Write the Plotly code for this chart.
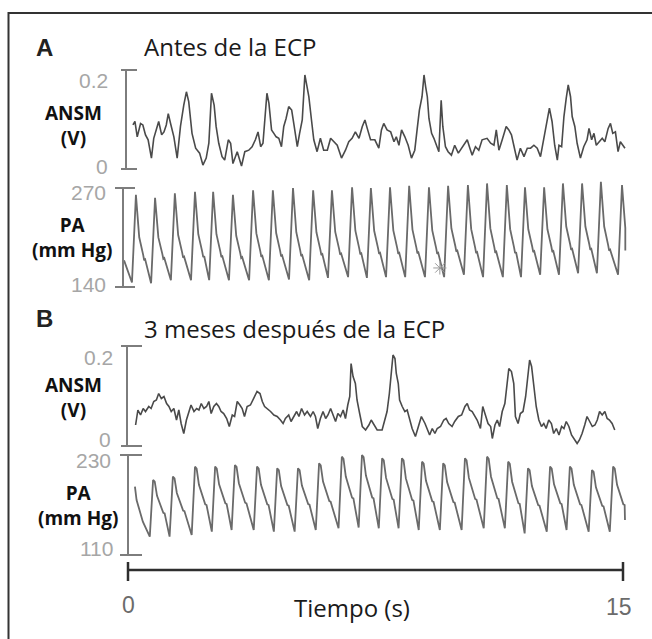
import plotly.graph_objects as go

# ---------------- data ----------------
# Panel A - ANSM (V) vs time (s)
ansm_a = [(0.15,0.089),(0.21,0.096),(0.28,0.065),(0.38,0.092),(0.45,0.089),(0.53,0.069),(0.61,0.059),(0.71,0.022),
          (0.78,0.062),(0.85,0.079),(0.93,0.096),(1.02,0.069),(1.09,0.075),(1.16,0.089),(1.22,0.112),(1.29,0.092),
          (1.39,0.065),(1.49,0.022),(1.59,0.086),(1.69,0.129),(1.77,0.156),(1.84,0.136),(1.94,0.072),(2.05,0.042),
          (2.17,0.032),(2.27,0.008),(2.37,0.022),(2.45,0.052),(2.53,0.153),(2.61,0.129),(2.67,0.086),(2.75,0.052),
          (2.85,0.025),(2.93,0.018),(3.04,0.059),(3.11,0.052),(3.18,0.011),(3.31,0.035),(3.44,0.006),(3.54,0.035),
          (3.66,0.038),(3.76,0.045),(3.86,0.059),(3.94,0.075),(4.02,0.045),(4.09,0.052),(4.15,0.099),(4.21,0.153),
          (4.27,0.133),(4.35,0.079),(4.42,0.072),(4.49,0.065),(4.57,0.062),(4.65,0.045),(4.72,0.086),(4.79,0.102),
          (4.87,0.126),(4.96,0.119),(5.03,0.089),(5.13,0.045),(5.20,0.072),(5.28,0.099),(5.36,0.190),(5.43,0.163),
          (5.48,0.146),(5.56,0.099),(5.63,0.059),(5.73,0.035),(5.83,0.062),(5.93,0.038),(6.04,0.038),(6.14,0.062),
          (6.24,0.055),(6.34,0.048),(6.47,0.022),(6.59,0.038),(6.69,0.055),(6.79,0.062),(6.89,0.075),(7.00,0.062),
          (7.10,0.086),(7.18,0.099),(7.25,0.082),(7.35,0.059),(7.48,0.059),
          (7.60,0.042),(7.68,0.079),(7.75,0.092),(7.85,0.079),(7.96,0.075),(8.06,0.055),(8.13,0.065),(8.21,0.048),
          (8.29,0.079),(8.39,0.065),(8.49,0.048),(8.59,0.022),(8.69,0.038),(8.76,0.079),(8.83,0.119),(8.91,0.146),
          (8.97,0.190),(9.02,0.166),(9.07,0.146),(9.12,0.102),(9.20,0.072),(9.27,0.062),(9.35,0.045),(9.42,0.035),
          (9.49,0.139),(9.54,0.086),(9.62,0.045),(9.70,0.035),(9.80,0.028),(9.90,0.048),(10.01,0.032),(10.11,0.042),
          (10.21,0.052),(10.28,0.059),(10.36,0.042),(10.43,0.028),(10.53,0.045),(10.63,0.038),(10.73,0.059),
          (10.88,0.062),(10.99,0.052),(11.09,0.048),(11.16,0.079),(11.24,0.038),(11.34,0.059),(11.46,0.086),
          (11.54,0.079),(11.62,0.069),(11.69,0.048),(11.79,0.018),(11.89,0.042),(12.00,0.025),(12.10,0.042),
          (12.20,0.042),(12.30,0.048),(12.40,0.042),(12.50,0.025),(12.60,0.062),(12.70,0.099),(12.77,0.123),
          (12.85,0.096),(12.93,0.048),(13.01,0.018),(13.06,0.048),(13.14,0.045),(13.21,0.106),(13.28,0.143),
          (13.34,0.170),(13.41,0.146),(13.46,0.106),(13.54,0.086),(13.61,0.052),(13.71,0.022),(13.81,0.045),
          (13.91,0.059),(13.97,0.082),(14.05,0.059),(14.12,0.072),(14.19,0.048),(14.27,0.055),(14.37,0.062),
          (14.45,0.055),(14.55,0.082),(14.62,0.092),(14.69,0.072),(14.77,0.075),(14.85,0.035),(14.92,0.055),
          (15.00,0.048),(15.06,0.042)]

# Panel A - PA (mm Hg): systolic peaks, following troughs
pa_a_lead = [(-0.12, 175), (0.12, 146)]
pa_a_peak_t = [0.24,0.82,1.42,2.03,2.58,3.18,3.79,4.39,5.00,5.61,6.18,6.79,7.36,7.94,8.52,9.12,9.70,10.30,
               10.88,11.48,12.03,12.61,13.18,13.76,14.33,14.97]
pa_a_peak_v = [261,257,263,265,265,261,267,267,270,267,267,271,270,271,273,271,273,274,276,274,271,271,276,
               276,278,274]
pa_a_trough_v = [145,149,149,149,149,149,149,150,149,152,153,152,153,153,153,153,156,153,153,153,156,156,158,
                 158,156]
pa_a_end = (15.07, 188)
pa_a_asterisk = (9.45, 165)

# Panel B - ANSM (V)
ansm_b = [(0.23,0.042),(0.30,0.072),(0.38,0.062),(0.46,0.075),(0.53,0.069),(0.63,0.079),(0.70,0.075),(0.78,0.089),
          (0.86,0.092),(0.93,0.105),(1.01,0.095),(1.09,0.099),(1.17,0.085),(1.24,0.079),(1.31,0.069),(1.39,0.075),
          (1.47,0.052),(1.54,0.072),(1.61,0.045),(1.69,0.025),(1.77,0.052),(1.84,0.069),(1.91,0.082),(2.00,0.069),
          (2.08,0.075),(2.15,0.072),(2.22,0.085),(2.30,0.075),(2.38,0.079),(2.45,0.089),(2.52,0.065),(2.60,0.079),
          (2.68,0.085),(2.75,0.079),(2.82,0.069),(2.90,0.065),(2.99,0.055),(3.07,0.039),(3.16,0.062),(3.23,0.059),
          (3.31,0.089),(3.39,0.082),(3.46,0.075),(3.53,0.059),(3.61,0.079),(3.71,0.082),(3.81,0.095),(3.91,0.109),
          (4.00,0.105),(4.07,0.089),(4.14,0.079),(4.22,0.075),(4.32,0.069),(4.42,0.062),(4.52,0.059),(4.62,0.052),
          (4.70,0.045),(4.77,0.055),(4.87,0.062),(4.94,0.049),(5.03,0.059),(5.11,0.069),(5.18,0.059),(5.26,0.075),
          (5.35,0.062),(5.43,0.069),(5.53,0.059),(5.61,0.069),(5.68,0.059),(5.75,0.035),(5.83,0.055),(5.91,0.069),
          (5.99,0.055),(6.06,0.062),(6.14,0.075),(6.22,0.059),(6.29,0.049),(6.36,0.065),(6.44,0.059),(6.52,0.072),
          (6.59,0.055),(6.66,0.082),(6.72,0.099),(6.76,0.165),(6.82,0.139),(6.89,0.125),(6.94,0.092),(7.02,0.065),
          (7.10,0.039),(7.20,0.032),(7.30,0.042),(7.37,0.052),(7.47,0.042),(7.55,0.032),
          (7.70,0.032),(7.78,0.052),(7.85,0.069),(7.92,0.105),(7.99,0.152),(8.03,0.182),(8.09,0.175),(8.13,0.145),
          (8.19,0.125),(8.23,0.092),(8.31,0.079),(8.39,0.069),(8.46,0.072),(8.53,0.052),(8.61,0.035),(8.71,0.019),
          (8.79,0.039),(8.89,0.059),(9.00,0.045),(9.07,0.035),(9.14,0.022),(9.22,0.035),(9.30,0.025),(9.37,0.035),
          (9.47,0.039),(9.57,0.052),(9.64,0.055),(9.72,0.045),(9.82,0.039),(9.90,0.049),(10.01,0.059),(10.11,0.062),
          (10.21,0.079),(10.28,0.085),(10.35,0.072),(10.43,0.069),(10.51,0.059),(10.58,0.052),(10.68,0.035),
          (10.75,0.079),(10.83,0.062),(10.91,0.045),(10.99,0.039),(11.04,0.015),(11.12,0.042),(11.19,0.052),
          (11.26,0.039),(11.34,0.069),(11.42,0.085),(11.49,0.125),(11.54,0.155),(11.62,0.149),(11.69,0.125),
          (11.74,0.059),(11.82,0.045),(11.89,0.065),(11.97,0.069),(12.05,0.099),(12.13,0.145),(12.17,0.172),
          (12.23,0.159),(12.30,0.119),(12.37,0.079),(12.45,0.052),(12.53,0.039),(12.60,0.045),(12.67,0.035),
          (12.75,0.052),(12.83,0.045),(12.90,0.025),(12.98,0.035),(13.06,0.022),(13.14,0.039),(13.21,0.035),
          (13.28,0.049),(13.36,0.039),(13.44,0.022),(13.54,0.012),(13.61,0.005),(13.68,0.012),(13.76,0.025),
          (13.84,0.042),(13.91,0.059),(13.99,0.049),(14.07,0.039),(14.15,0.042),(14.22,0.052),(14.29,0.069),
          (14.37,0.062),(14.45,0.069),(14.52,0.055),(14.59,0.052),(14.67,0.045),(14.75,0.032)]

# Panel B - PA (mm Hg)
pa_b_lead = [(0.21, 192), (0.26, 176), (0.45, 150), (0.66, 132)]
pa_b_peak_t = [0.76,1.36,2.03,2.64,3.24,3.91,4.52,5.15,5.79,6.48,7.09,7.70,8.30,8.91,9.55,10.21,10.88,11.52,
               12.12,12.79,13.39,14.06,14.70]
pa_b_peak_v = [200,204,216,216,218,216,214,214,220,228,230,226,226,222,220,226,228,222,214,216,216,212,216]
pa_b_trough_v = [132,134,138,140,140,138,138,140,142,143,142,142,140,140,140,142,142,136,138,140,138,138]
pa_b_end = (15.06, 152)

# ---------------- geometry / helpers ----------------
W, H = 652, 639
T0_PX, T15_PX = 128, 623


def t_of(px):
    return (px - T0_PX) * 15.0 / (T15_PX - T0_PX)


def xp(px):
    return px / W


def yp(py):
    return 1 - py / H


def yaxis_cfg(py_top, py_bot, py_hi, v_hi, py_lo, v_lo):
    k = (v_hi - v_lo) / (py_lo - py_hi)
    return dict(domain=[yp(py_bot), yp(py_top)],
                range=[v_lo - (py_bot - py_lo) * k, v_hi + (py_hi - py_top) * k],
                visible=False, anchor='x', fixedrange=True)


def build_pa(lead, peak_t, peak_v, trough_v, offs, fracs, rise, end):
    xs = [p[0] for p in lead]
    ys = [p[1] for p in lead]
    n = len(peak_t)
    for i in range(n):
        tp, vp = peak_t[i], peak_v[i]
        base = trough_v[i] if i < len(trough_v) else trough_v[-1]
        for o, f in zip(offs, fracs):
            if i == n - 1 and tp + o > end[0]:
                break
            xs.append(tp + o)
            ys.append(base + f * (vp - base))
        if i < n - 1:
            xs.append(peak_t[i + 1] - rise)
            ys.append(trough_v[i])
        else:
            xs.append(end[0])
            ys.append(end[1])
    return xs, ys


pa_a_x, pa_a_y = build_pa(pa_a_lead, pa_a_peak_t, pa_a_peak_v, pa_a_trough_v,
                          [0, 0.05, 0.10, 0.22, 0.25, 0.28], [1, 0.73, 0.52, 0.32, 0.26, 0.27],
                          0.12, pa_a_end)
pa_b_x, pa_b_y = build_pa(pa_b_lead, pa_b_peak_t, pa_b_peak_v, pa_b_trough_v,
                          [0, 0.05, 0.12, 0.25, 0.31, 0.35], [1, 0.97, 0.72, 0.50, 0.42, 0.41],
                          0.10, pa_b_end)

ANSM_COL = '#4a4a4a'
PA_COL = '#6a6a6a'
BAR_COL = '#7d7d7d'
TICK_COL = '#a6a6a6'

fig = go.Figure()
fig.add_trace(go.Scatter(x=[p[0] for p in ansm_a], y=[p[1] for p in ansm_a], mode='lines',
                         line=dict(color=ANSM_COL, width=1.6), xaxis='x', yaxis='y', hoverinfo='skip'))
fig.add_trace(go.Scatter(x=pa_a_x, y=pa_a_y, mode='lines', line=dict(color=PA_COL, width=1.8),
                         xaxis='x', yaxis='y2', hoverinfo='skip'))
fig.add_trace(go.Scatter(x=[pa_a_asterisk[0]], y=[pa_a_asterisk[1]], mode='markers',
                         marker=dict(symbol='asterisk-open', size=11, color='#9a9a9a',
                                     line=dict(color='#9a9a9a', width=1)),
                         xaxis='x', yaxis='y2', hoverinfo='skip'))
fig.add_trace(go.Scatter(x=[p[0] for p in ansm_b], y=[p[1] for p in ansm_b], mode='lines',
                         line=dict(color=ANSM_COL, width=1.6), xaxis='x', yaxis='y3', hoverinfo='skip'))
fig.add_trace(go.Scatter(x=pa_b_x, y=pa_b_y, mode='lines', line=dict(color=PA_COL, width=1.8),
                         xaxis='x', yaxis='y4', hoverinfo='skip'))

shapes = []
annotations = []

# outer frame
shapes.append(dict(type='rect', xref='paper', yref='paper', x0=xp(8.5), x1=1.05, y0=-0.05, y1=yp(13),
                   line=dict(color='#333333', width=2), layer='below'))

# I-shaped scale bars: (yref, bar_px, cap_left, cap_right, lo, hi)
bars = [('y', 126, 121, 137, 0, 0.2),
        ('y2', 123, 115, 135, 140, 270),
        ('y3', 127, 121, 142, 0, 0.2),
        ('y4', 128, 120, 142, 110, 230)]
for yr, bx, cl, cr, lo, hi in bars:
    shapes.append(dict(type='line', xref='paper', yref=yr, x0=xp(bx), x1=xp(bx), y0=lo, y1=hi,
                       line=dict(color=BAR_COL, width=2)))
    for v in (lo, hi):
        shapes.append(dict(type='line', xref='paper', yref=yr, x0=xp(cl), x1=xp(cr), y0=v, y1=v,
                           line=dict(color=BAR_COL, width=2)))

# scale labels: (text, yref, value, right_px, yshift)
scale_labels = [('0.2', 'y', 0.2, 110, -10), ('0', 'y', 0, 110, 3),
                ('270', 'y2', 270, 108, -4), ('140', 'y2', 140, 108, 3),
                ('0.2', 'y3', 0.2, 115, -11), ('0', 'y3', 0, 113, 7),
                ('230', 'y4', 230, 113, -5), ('110', 'y4', 110, 115, 7)]
for txt, yr, v, rx, ys in scale_labels:
    annotations.append(dict(text=txt, xref='paper', yref=yr, x=xp(rx), y=v, xanchor='right',
                            yanchor='middle', yshift=ys, showarrow=False,
                            font=dict(family='Liberation Sans, Arial', size=21, color=TICK_COL)))

# time axis
AX_PY = 570
shapes.append(dict(type='line', xref='x', yref='paper', x0=0, x1=15, y0=yp(AX_PY), y1=yp(AX_PY),
                   line=dict(color='#2e2e2e', width=2.5)))
for tv in (0, 15):
    shapes.append(dict(type='line', xref='x', yref='paper', x0=tv, x1=tv, y0=yp(562), y1=yp(581),
                       line=dict(color='#2e2e2e', width=2.5)))
annotations.append(dict(text='0', xref='x', yref='paper', x=0, y=yp(605), xanchor='center', yanchor='middle',
                        showarrow=False, font=dict(family='Liberation Sans, Arial', size=23, color='#6b6b6b')))
annotations.append(dict(text='15', xref='x', yref='paper', x=15, y=yp(607), xanchor='center', yanchor='middle',
                        xshift=-4, showarrow=False,
                        font=dict(family='Liberation Sans, Arial', size=23, color='#6b6b6b')))
annotations.append(dict(text='Tiempo (s)', xref='paper', yref='paper', x=xp(352), y=yp(607), xanchor='center',
                        yanchor='middle', showarrow=False,
                        font=dict(family='Open Sans', size=24, color='#1a1a1a')))

# panel letters & titles
for txt, cx, cy in (('A', 44, 48), ('B', 44, 318)):
    annotations.append(dict(text='<b>%s</b>' % txt, xref='paper', yref='paper', x=xp(cx), y=yp(cy),
                            xanchor='center', yanchor='middle', showarrow=False,
                            font=dict(family='Liberation Sans, Arial', size=24, color='#222222')))
for txt, lx, cy in (('Antes de la ECP', 142, 46), ('3 meses después de la ECP', 142, 328)):
    annotations.append(dict(text=txt, xref='paper', yref='paper', x=xp(lx), y=yp(cy),
                            xanchor='left', yanchor='middle', showarrow=False,
                            font=dict(family='Open Sans', size=24, color='#1a1a1a')))

# variable labels
for txt, cx, cy in (('ANSM<br>(V)', 73, 126), ('PA<br>(mm Hg)', 72, 237),
                    ('ANSM<br>(V)', 73, 397), ('PA<br>(mm Hg)', 78, 505)):
    annotations.append(dict(text='<b>%s</b>' % txt, xref='paper', yref='paper', x=xp(cx), y=yp(cy),
                            xanchor='center', yanchor='middle', align='center', showarrow=False,
                            font=dict(family='Open Sans', size=19, color='#111111')))

fig.update_layout(
    width=W, height=H, margin=dict(l=0, r=0, t=0, b=0),
    paper_bgcolor='white', plot_bgcolor='rgba(0,0,0,0)', showlegend=False,
    xaxis=dict(domain=[xp(112), xp(645)], range=[t_of(112), t_of(645)], visible=False, fixedrange=True),
    yaxis=yaxis_cfg(60, 178, 70, 0.2, 169, 0.0),
    yaxis2=yaxis_cfg(179, 300, 188, 270, 287, 140),
    yaxis3=yaxis_cfg(336, 450, 346, 0.2, 446, 0.0),
    yaxis4=yaxis_cfg(451, 562, 455, 230, 555, 110),
    shapes=shapes, annotations=annotations,
)

fig.write_html('out.html')
